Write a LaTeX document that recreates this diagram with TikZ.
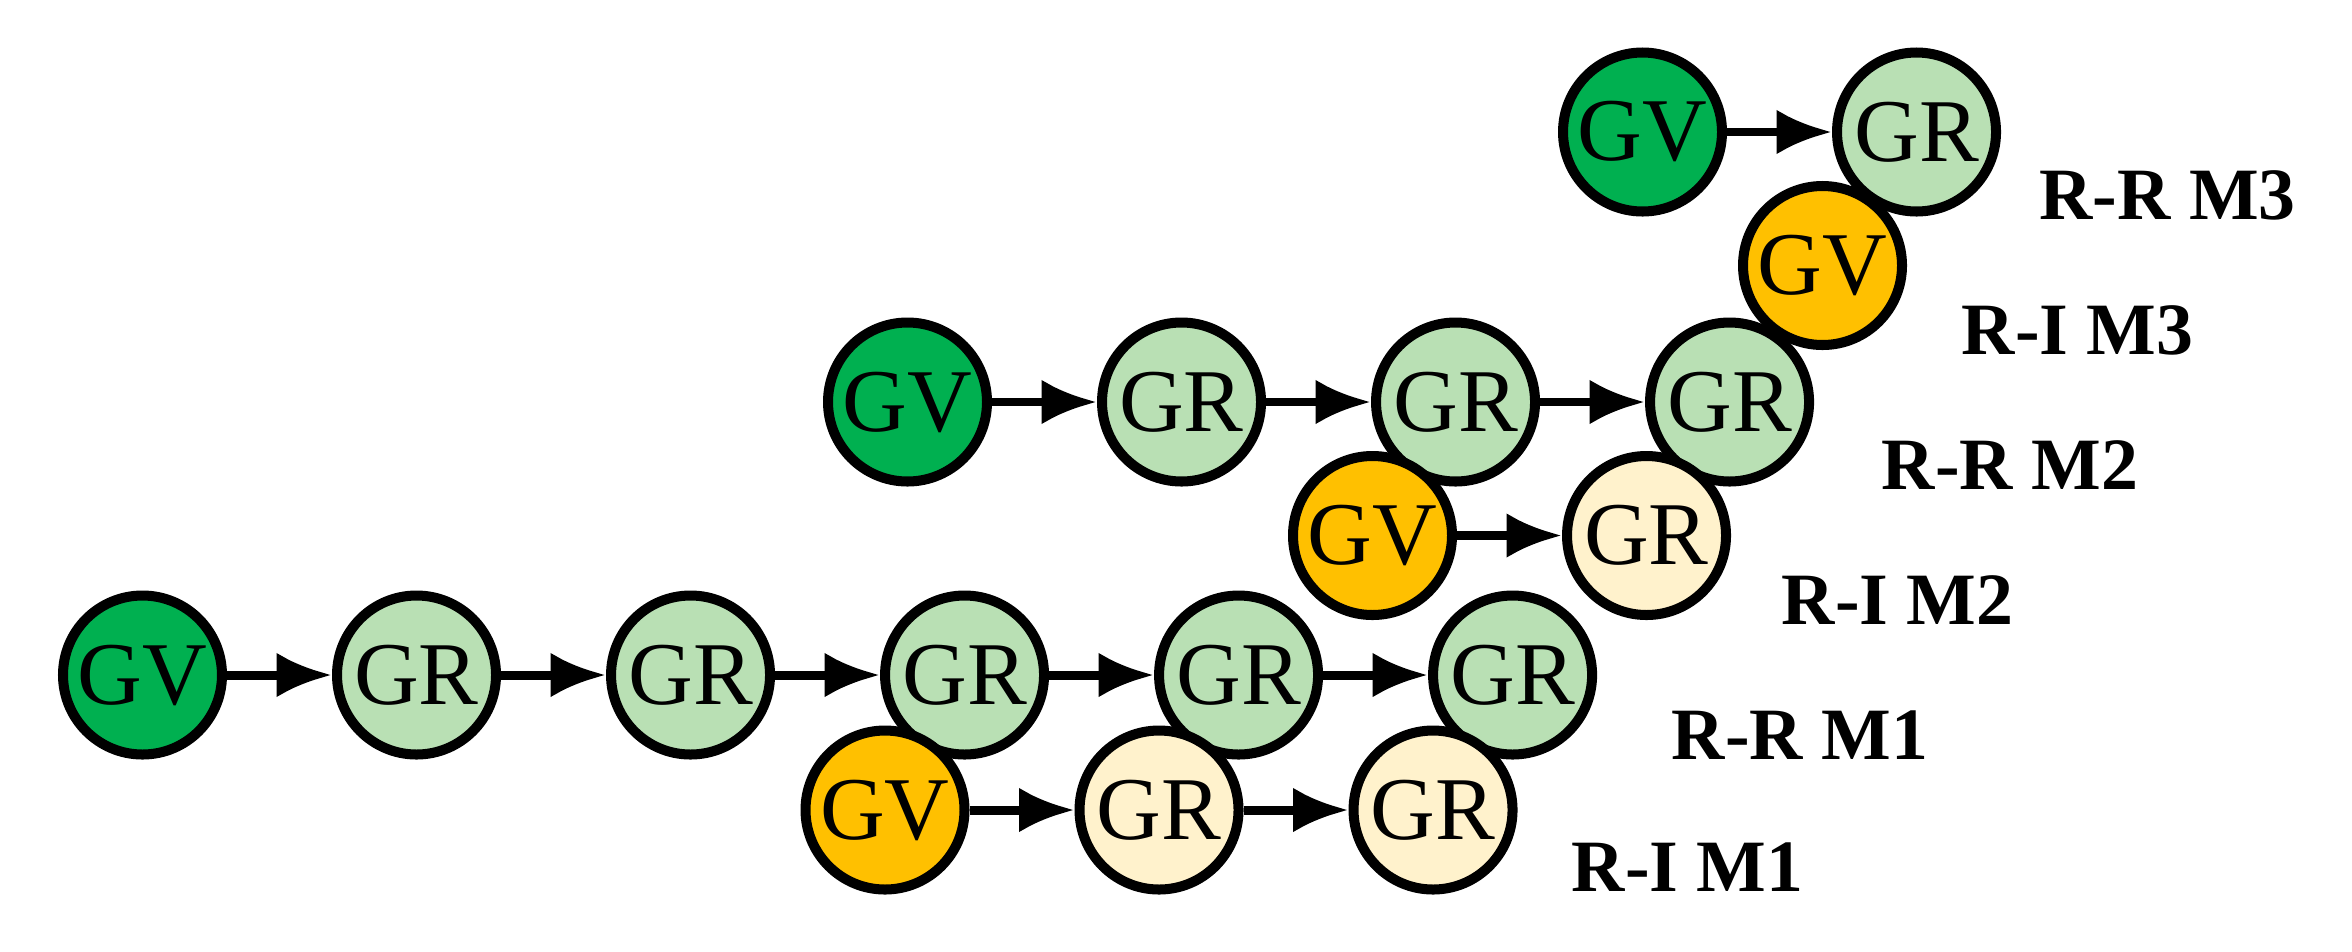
\documentclass[tikz,border=0pt]{standalone}
\usepackage{fontspec}
\setmainfont{Liberation Serif}
\usetikzlibrary{positioning,arrows.meta}
\definecolor{dgreen}{HTML}{00B050}
\definecolor{lgreen}{HTML}{B9E0B4}
\definecolor{dorange}{HTML}{FFC000}
\definecolor{lyellow}{HTML}{FFF2CC}
\tikzset{>={Latex[length=0.37cm,width=0.3cm]}}
\tikzset{
  st/.style={circle,draw,line width=1.9pt,minimum size=1.06cm,inner sep=0pt,font=\fontsize{17}{17}\selectfont},
  gvr/.style={st,fill=dgreen},
  gvi/.style={st,fill=dorange},
  grr/.style={st,fill=lgreen},
  gri/.style={st,fill=lyellow},
  lab/.style={font=\fontsize{14}{14}\selectfont\bfseries},
  arr/.style={->,line width=1.7pt}
}
\begin{document}
\begin{tikzpicture}[node distance=0.7cm]
            \useasboundingbox (0,0) rectangle (15.68,6.34);
            % R-R M3
            \node [gvr] at (10.95,5.46) (A0) {GV};
            \node [grr, right=of A0] (A1) {GR};
            \draw[arr] (A0) -- (A1);
            % R-I M3
            \node [gvi] at (12.15,4.57) (B0) {GV};
            % R-R M2
            \node [gvr] at (6.05,3.66) (C0) {GV};
            \node [grr, right=of C0] (C1) {GR};
            \node [grr, right=of C1] (C2) {GR};
            \node [grr, right=of C2] (C3) {GR};
            \draw[arr] (C0) -- (C1);
            \draw[arr] (C1) -- (C2);
            \draw[arr] (C2) -- (C3);
            % R-I M2
            \node [gvi] at (9.15,2.77) (D0) {GV};
            \node [gri, right=of D0] (D1) {GR};
            \draw[arr] (D0) -- (D1);
            % R-R M1
            \node [gvr] at (0.95,1.84) (E0) {GV};
            \node [grr, right=of E0] (E1) {GR};
            \node [grr, right=of E1] (E2) {GR};
            \node [grr, right=of E2] (E3) {GR};
            \node [grr, right=of E3] (E4) {GR};
            \node [grr, right=of E4] (E5) {GR};
            \draw[arr] (E0) -- (E1);
            \draw[arr] (E1) -- (E2);
            \draw[arr] (E2) -- (E3);
            \draw[arr] (E3) -- (E4);
            \draw[arr] (E4) -- (E5);
            % R-I M1
            \node [gvi] at (5.90,0.94) (F0) {GV};
            \node [gri, right=of F0] (F1) {GR};
            \node [gri, right=of F1] (F2) {GR};
            \draw[arr] (F0) -- (F1);
            \draw[arr] (F1) -- (F2);
            % labels
            \node [lab] at (14.45,5.04) (LA) {R-R M3};
            \node [lab] at (13.85,4.14) (LB) {R-I M3};
            \node [lab] at (13.40,3.24) (LC) {R-R M2};
            \node [lab] at (12.65,2.34) (LD) {R-I M2};
            \node [lab] at (12.00,1.44) (LE) {R-R M1};
            \node [lab] at (11.25,0.56) (LF) {R-I M1};
\end{tikzpicture}
\end{document}
